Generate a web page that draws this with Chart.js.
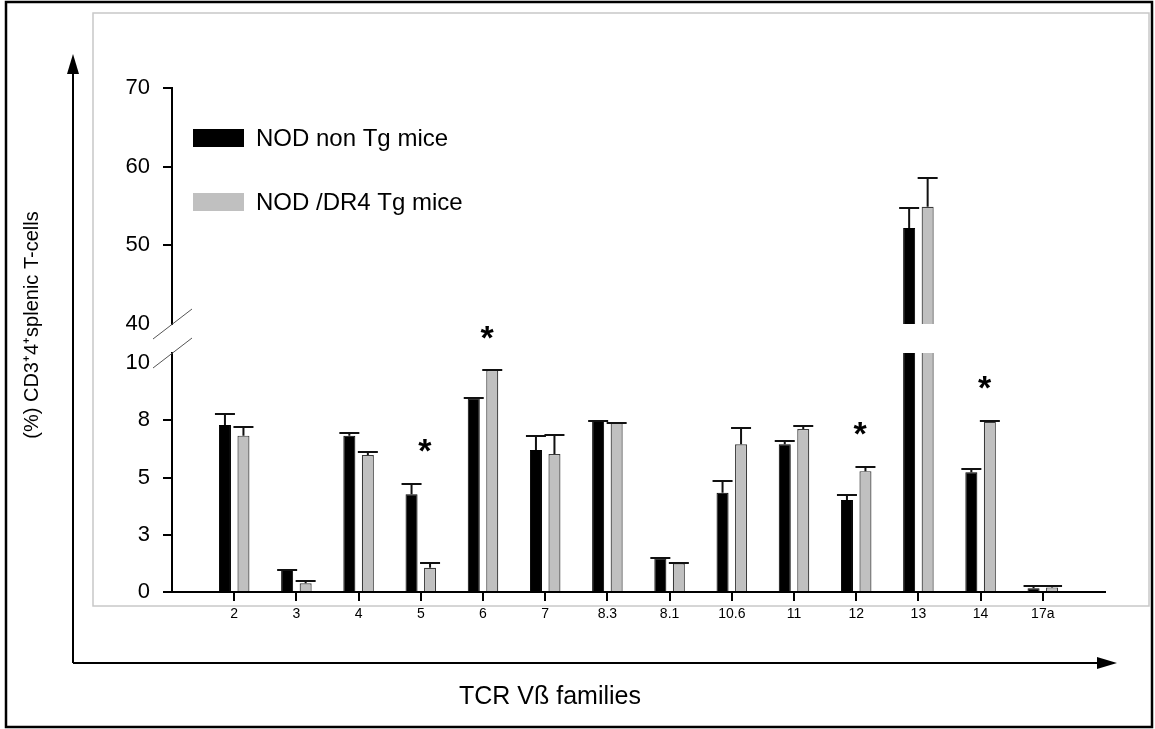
<!DOCTYPE html>
<html>
<head>
<meta charset="utf-8">
<title>TCR Vß families</title>
<script src="https://cdn.jsdelivr.net/npm/chart.js@4.4.1/dist/chart.umd.min.js"></script>
<style>
  html, body { margin: 0; padding: 0; background: #fff; }
  #wrap { position: relative; width: 1155px; height: 729px; }
  #wrap canvas { position: absolute; left: 0; top: 0; }
</style>
</head>
<body>
<div id="wrap">
  <canvas id="lowChart" width="1155" height="729"></canvas>
  <canvas id="highChart" width="1155" height="729"></canvas>
</div>
<script>
// data
const families = ['2', '3', '4', '5', '6', '7', '8.3', '8.1', '10.6', '11', '12', '13', '14', '17a'];
const nonTgMean = [7.3, 0.96, 6.83, 4.27, 8.46, 6.2, 7.48, 1.47, 4.34, 6.45, 4.02, 52.2, 5.23, 0.16];
const nonTgErr  = [0.47, 0.0, 0.13, 0.45, 0.0, 0.63, 0.0, 0.0, 0.51, 0.14, 0.22, 2.6, 0.14, 0.1];
const dr4Mean   = [6.83, 0.38, 5.98, 1.06, 9.69, 6.03, 7.39, 1.25, 6.45, 7.12, 5.28, 54.9, 7.44, 0.2];
const dr4Err    = [0.37, 0.1, 0.13, 0.21, 0.0, 0.84, 0.0, 0.0, 0.71, 0.13, 0.19, 3.6, 0.04, 0.06];
const significant = ['5', '6', '12', '14'];
const seriesNames = ['NOD non Tg mice', 'NOD /DR4 Tg mice'];
const lowTicks = [0, 2.5, 5, 7.5, 10];
const highTicks = [40, 50, 60, 70];
const lowMax = 10.44;
const xTitle = 'TCR Vß families';
const yTitle = '(%) CD3⁺4⁺splenic T-cells';

const FONT = "'Liberation Sans', Arial, sans-serif";
Chart.defaults.font.family = FONT;
Chart.defaults.color = '#000';

// one empty slot on each side of the categories, like the original axis
const labels = ['', ...families, ''];
const padded = arr => [null, ...arr, null];
const errs = [padded(nonTgErr), padded(dr4Err)];
const highOnly = arr => arr.map(v => (v >= highTicks[0] ? v : null));

function makeDatasets(a, b) {
  return [
    {
      label: seriesNames[0], data: a,
      backgroundColor: '#000', borderColor: '#000', borderWidth: 1,
      categoryPercentage: 0.595, barPercentage: 0.65, clip: 0
    },
    {
      label: seriesNames[1], data: b,
      backgroundColor: '#c0c0c0', borderColor: '#3a3a3a', borderWidth: 1.2,
      categoryPercentage: 0.595, barPercentage: 0.65, clip: 0
    }
  ];
}

const errorBars = {
  id: 'errorBars',
  afterDatasetsDraw(chart) {
    const c = chart.ctx;
    const y = chart.scales.y;
    c.save();
    c.strokeStyle = '#111';
    c.lineWidth = 2;
    chart.data.datasets.forEach((ds, i) => {
      chart.getDatasetMeta(i).data.forEach((bar, j) => {
        const v = ds.data[j];
        if (v == null || v > y.max) return;
        const top = Math.round(y.getPixelForValue(v + errs[i][j]));
        c.beginPath();
        c.moveTo(bar.x, bar.y);
        c.lineTo(bar.x, top);
        c.moveTo(bar.x - 10, top);
        c.lineTo(bar.x + 10, top);
        c.stroke();
      });
    });
    c.restore();
  }
};

function breakMark(c, x, y) {
  c.save();
  c.strokeStyle = '#555';
  c.lineWidth = 1;
  c.beginPath();
  c.moveTo(x - 19, y + 15);
  c.lineTo(x + 20, y - 15);
  c.stroke();
  c.restore();
}

const decorations = {
  id: 'decorations',
  beforeDraw(chart) {
    const c = chart.ctx;
    c.save();
    c.fillStyle = '#fff';
    c.fillRect(0, 0, chart.width, chart.height);
    c.strokeStyle = '#000';
    c.lineWidth = 2.5;
    c.strokeRect(6, 2, 1146, 725);
    c.strokeStyle = '#c8c8c8';
    c.lineWidth = 1.5;
    c.strokeRect(93, 13, 1056, 593);
    // outer axis arrows
    c.strokeStyle = '#000';
    c.lineWidth = 2;
    c.beginPath();
    c.moveTo(73, 663); c.lineTo(73, 70);
    c.moveTo(73, 663); c.lineTo(1100, 663);
    c.stroke();
    c.fillStyle = '#000';
    c.beginPath(); c.moveTo(73, 54); c.lineTo(67, 74); c.lineTo(79, 74); c.closePath(); c.fill();
    c.beginPath(); c.moveTo(1117, 663); c.lineTo(1097, 657); c.lineTo(1097, 669); c.closePath(); c.fill();
    c.restore();
  },
  afterDraw(chart) {
    const c = chart.ctx;
    const x = chart.scales.x;
    const y = chart.scales.y;
    const area = chart.chartArea;
    c.save();

    // category tick marks under the axis
    c.fillStyle = '#000';
    families.forEach(name => {
      const px = Math.round(x.getPixelForValue(labels.indexOf(name)));
      c.fillRect(px - 1, Math.round(area.bottom), 2, 9);
    });

    // axis titles
    c.font = '25px ' + FONT;
    c.textAlign = 'center';
    c.textBaseline = 'middle';
    c.fillText(xTitle, 550, 697);
    c.save();
    c.translate(32, 325);
    c.rotate(-Math.PI / 2);
    c.font = '20px ' + FONT;
    c.fillText(yTitle, 0, 0);
    c.restore();

    // legend
    c.font = '24px ' + FONT;
    c.textAlign = 'left';
    chart.data.datasets.forEach((ds, i) => {
      const top = 129 + i * 64;
      c.fillStyle = ds.backgroundColor;
      c.fillRect(193, top, 51, 18);
      c.fillStyle = '#000';
      c.fillText(ds.label, 256, top + 10);
    });

    // significance marks
    c.font = 'bold 34px ' + FONT;
    c.textAlign = 'center';
    c.textBaseline = 'alphabetic';
    const m = c.measureText('*');
    significant.forEach(name => {
      const j = labels.indexOf(name);
      const hi = Math.max(...chart.data.datasets.map((ds, i) => ds.data[j] + errs[i][j]));
      const cy = y.getPixelForValue(hi) - 38;
      c.fillText('*', x.getPixelForValue(j) + 4, cy + (m.actualBoundingBoxAscent - m.actualBoundingBoxDescent) / 2);
    });
    c.restore();

    breakMark(c, area.left, area.top);
  }
};

const upperBreak = {
  id: 'upperBreak',
  afterDraw(chart) {
    breakMark(chart.ctx, chart.chartArea.left, chart.scales.y.getPixelForValue(highTicks[0]));
  }
};

function yAxis(min, max, ticks, hiddenTick) {
  return {
    min: min, max: max,
    afterBuildTicks: s => { s.ticks = ticks.map(v => ({ value: v })); },
    afterFit: s => { s.width = 72; },
    border: { display: true, color: '#000', width: 2 },
    grid: {
      drawOnChartArea: false, drawTicks: true, tickLength: 9, lineWidth: 2,
      tickColor: ctx => (ctx.tick && ctx.tick.value === hiddenTick ? 'rgba(0,0,0,0)' : '#000')
    },
    ticks: { padding: 13, font: { size: 22 }, color: '#000', callback: v => Math.round(v) }
  };
}

new Chart(document.getElementById('lowChart'), {
  type: 'bar',
  data: { labels: labels, datasets: makeDatasets(padded(nonTgMean), padded(dr4Mean)) },
  options: {
    responsive: false, animation: false,
    layout: { padding: { left: 100, right: 50, top: 353, bottom: 97 } },
    plugins: { legend: { display: false }, tooltip: { enabled: false } },
    scales: {
      x: {
        offset: false,
        afterFit: s => { s.height = 40; },
        border: { display: true, color: '#000', width: 2 },
        grid: { display: false, drawTicks: false },
        ticks: { autoSkip: false, maxRotation: 0, padding: 14, font: { size: 14 }, color: '#000' }
      },
      y: yAxis(0, lowMax, lowTicks, 10)
    }
  },
  plugins: [decorations, errorBars]
});

new Chart(document.getElementById('highChart'), {
  type: 'bar',
  data: { labels: labels, datasets: makeDatasets(padded(highOnly(nonTgMean)), padded(highOnly(dr4Mean))) },
  options: {
    responsive: false, animation: false,
    layout: { padding: { left: 100, right: 50, top: 88, bottom: 405 } },
    plugins: { legend: { display: false }, tooltip: { enabled: false } },
    scales: {
      x: { display: false, offset: false },
      y: yAxis(highTicks[0], highTicks[highTicks.length - 1], highTicks, 40)
    }
  },
  plugins: [errorBars, upperBreak]
});
</script>
</body>
</html>
